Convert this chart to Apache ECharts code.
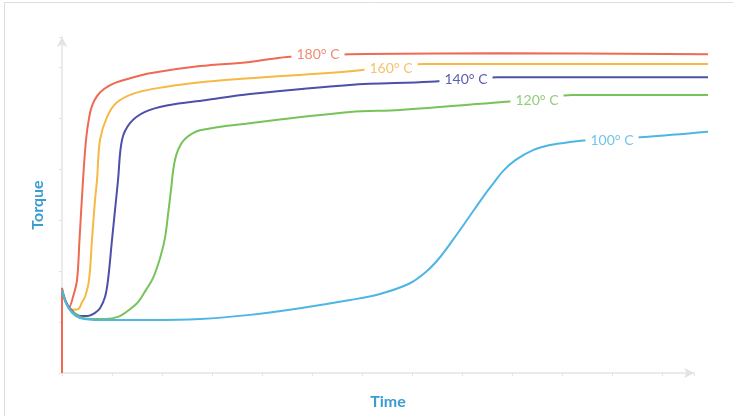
<!DOCTYPE html>
<html>
<head>
<meta charset="utf-8">
<script src="https://cdn.jsdelivr.net/npm/echarts@6/dist/echarts.min.js"></script>
<style>
html,body{margin:0;padding:0;background:#fff;}
#chart{width:733px;height:416px;}
</style>
</head>
<body>
<div id="chart"></div>
<script>
// Series values: [time, torque]
const temp180 = [[0,0],[0,1.67],[0.06,1.45],[0.14,1.29],[0.22,1.49],[0.3,1.82],[0.35,2.61],[0.42,3.78],[0.48,4.57],[0.54,5.0],[0.6,5.24],[0.7,5.43],[0.84,5.57],[1.06,5.69],[1.36,5.78],[1.76,5.88],[2.76,6.02],[3.76,6.1],[4.5,6.2],[5.76,6.25],[8.76,6.27],[12.92,6.25]];
const temp160 = [[0,1.63],[0.08,1.37],[0.18,1.24],[0.32,1.25],[0.4,1.39],[0.46,1.49],[0.54,1.82],[0.6,2.61],[0.66,3.39],[0.7,3.78],[0.76,4.57],[0.9,5.02],[1.1,5.31],[1.46,5.49],[2.06,5.61],[2.86,5.71],[3.76,5.78],[5.76,5.92],[7.26,6.06],[12.92,6.06]];
const temp140 = [[0,1.63],[0.08,1.39],[0.2,1.22],[0.36,1.12],[0.52,1.12],[0.66,1.18],[0.76,1.27],[0.86,1.49],[0.92,1.82],[1.0,2.61],[1.07,3.29],[1.12,3.78],[1.2,4.57],[1.36,4.9],[1.66,5.12],[2.12,5.25],[2.86,5.35],[3.76,5.47],[5.76,5.65],[7.36,5.71],[8.72,5.8],[12.92,5.8]];
const temp120 = [[0,1.63],[0.08,1.37],[0.2,1.2],[0.36,1.1],[0.56,1.06],[0.86,1.06],[1.12,1.1],[1.32,1.22],[1.52,1.39],[1.68,1.63],[1.82,1.86],[1.96,2.25],[2.06,2.65],[2.12,3.1],[2.18,3.59],[2.24,4.08],[2.32,4.37],[2.46,4.59],[2.76,4.76],[3.76,4.9],[5.76,5.12],[6.76,5.16],[8.76,5.31],[9.56,5.37],[10.2,5.45],[12.92,5.45]];
const temp100 = [[0,1.63],[0.08,1.37],[0.2,1.18],[0.36,1.08],[0.76,1.04],[1.76,1.04],[2.76,1.06],[3.76,1.14],[4.76,1.27],[5.76,1.43],[6.36,1.55],[6.96,1.76],[7.3,2.0],[7.56,2.27],[7.84,2.64],[8.1,3.0],[8.42,3.45],[8.62,3.71],[8.82,3.96],[9.06,4.17],[9.42,4.37],[9.76,4.47],[10.16,4.53],[10.56,4.57],[11.66,4.63],[12.92,4.73]];
const seriesNames = ['180° C','160° C','140° C','120° C','100° C'];
const labelAt = [[5.12,6.24],[6.58,5.98],[8.08,5.75],[9.5,5.35],[11.0,4.57]];
const xTicks = [0,1,2,3,4,5,6,7,8,9,10,11,12];
const yTicks = [0,1,2,3,4,5,6];

const allData = [temp180, temp160, temp140, temp120, temp100];
const lineColors = ['#ee6a52','#f6b945','#4c50a8','#78c25a','#4db6e4'];
const textColors = ['#f08a74','#f4c36a','#5a5db0','#94cc7a','#74c3e8'];

const chart = echarts.init(document.getElementById('chart'), null, {renderer:'canvas'});
const series = allData.map((d, i) => ({
  type: 'line',
  name: seriesNames[i],
  xAxisIndex: 0, yAxisIndex: 0,
  data: d,
  smooth: 0.35,
  showSymbol: false,
  symbol: 'none',
  lineStyle: {color: lineColors[i], width: 2},
  markPoint: {
    z: 30,
    symbol: 'rect', symbolSize: 1,
    itemStyle: {color: 'rgba(0,0,0,0)'},
    label: {
      show: true, position: 'inside',
      formatter: seriesNames[i],
      color: textColors[i],
      fontFamily: 'Lato', fontSize: 14,
      backgroundColor: '#ffffff', padding: [2, 5]
    },
    data: [{coord: labelAt[i]}]
  }
}));

chart.setOption({
  animation: false,
  backgroundColor: '#fff',
  grid: [
    {left: 62, right: 25, top: 37, bottom: 43},
    {left: 62, right: 39, top: 37, bottom: 43}
  ],
  xAxis: [
    {type: 'value', gridIndex: 0, min: 0, max: 12.92, show: false},
    {type: 'value', gridIndex: 1, min: 0, max: 12.64, interval: 1,
     axisLine: {show: true, lineStyle: {color: '#e3e3e3', width: 1.5}, symbol: ['none','arrow'], symbolSize: [8, 10]},
     axisTick: {show: true, length: 3, lineStyle: {color: '#e3e3e3'}},
     axisLabel: {show: false}, splitLine: {show: false},
     name: 'Time', nameLocation: 'middle', nameGap: 21,
     nameTextStyle: {color: '#3a9cd0', fontFamily: 'Lato', fontWeight: 'bold', fontSize: 16, padding: [0,0,0,20]}
    }
  ],
  yAxis: [
    {type: 'value', gridIndex: 0, min: 0, max: 6.59, interval: 1,
     axisLine: {show: true, lineStyle: {color: '#e3e3e3', width: 1.5}, symbol: ['none','arrow'], symbolSize: [8, 10]},
     axisTick: {show: true, length: 3, lineStyle: {color: '#e3e3e3'}},
     axisLabel: {show: false}, splitLine: {show: false},
     name: 'Torque', nameLocation: 'middle', nameGap: 16, nameRotate: 90,
     nameTextStyle: {color: '#3a9cd0', fontFamily: 'Lato', fontWeight: 'bold', fontSize: 16}
    },
    {type: 'value', gridIndex: 1, min: 0, max: 6.59, show: false}
  ],
  graphic: [
    {type: 'line', shape: {x1: 4, y1: 2.5, x2: 733, y2: 2.5}, style: {stroke: '#dedede', lineWidth: 1}},
    {type: 'line', shape: {x1: 4.5, y1: 2.5, x2: 4.5, y2: 416}, style: {stroke: '#dedede', lineWidth: 1}}
  ],
  series: series
});
</script>
</body>
</html>
